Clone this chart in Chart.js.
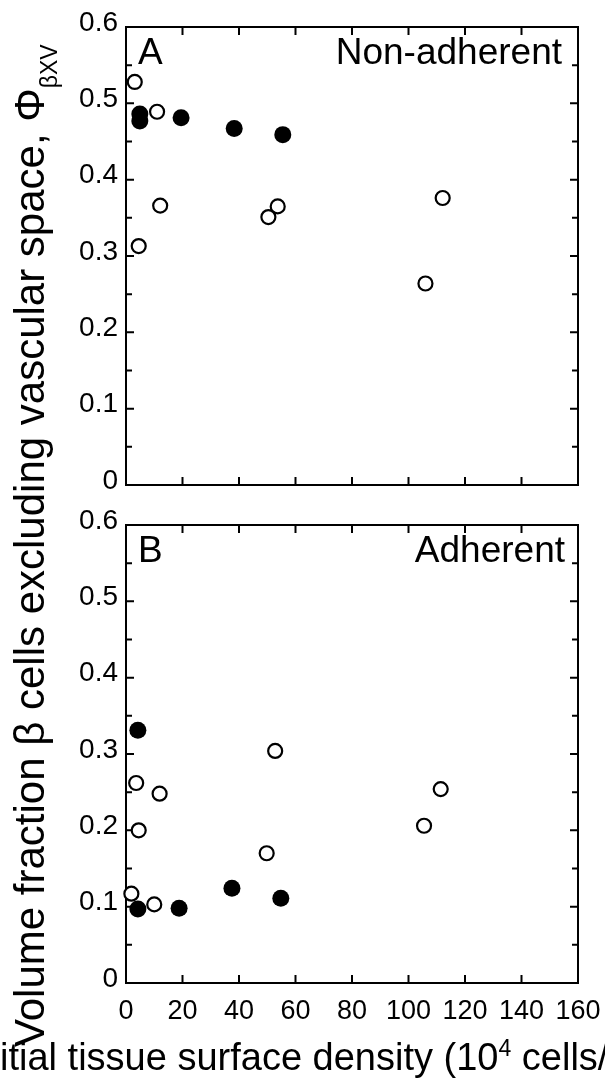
<!DOCTYPE html>
<html>
<head>
<meta charset="utf-8">
<script src="https://cdn.jsdelivr.net/npm/chart.js@4.4.1/dist/chart.umd.min.js"></script>
<style>
  html, body { margin: 0; padding: 0; background: #fff; }
  #wrap { position: relative; width: 605px; height: 1082px; overflow: hidden; background: #fff; }
  #chartA { position: absolute; left: 0; top: 0; }
  #chartB { position: absolute; left: 0; top: 500px; }
  #ytitle {
    position: absolute; left: 9px; top: 1047px;
    transform-origin: 0 0; transform: rotate(-90deg);
    font-family: "Liberation Sans", Arial, sans-serif; font-size: 42px; line-height: 42px;
    white-space: nowrap; color: #000;
  }
  #ytitle sub { font-size: 23px; vertical-align: baseline; position: relative; top: 13px; }
</style>
</head>
<body>
<div id="wrap">
  <canvas id="chartA" width="605" height="500"></canvas>
  <canvas id="chartB" width="605" height="582"></canvas>
  <div id="ytitle">Volume fraction β cells excluding vascular space, Φ<sub>βXV</sub></div>
</div>
<script>
// tick values
const xTickValues = [0, 20, 40, 60, 80, 100, 120, 140, 160];
const yTickValues = [0, 0.1, 0.2, 0.3, 0.4, 0.5, 0.6];

// panel A - non-adherent
const openAx = [3.1, 11.0, 12.1, 4.5, 53.7, 50.4, 112.1, 106.0];
const openAy = [0.528, 0.489, 0.366, 0.313, 0.365, 0.351, 0.376, 0.264];
const filledAx = [4.9, 4.9, 19.5, 38.3, 55.5];
const filledAy = [0.486, 0.477, 0.481, 0.467, 0.459];

// panel B - adherent
const openBx = [3.6, 11.9, 4.5, 1.9, 10.0, 52.8, 111.4, 105.5, 49.8];
const openBy = [0.262, 0.248, 0.200, 0.117, 0.103, 0.304, 0.254, 0.206, 0.170];
const filledBx = [4.2, 4.2, 18.8, 37.5, 54.8];
const filledBy = [0.331, 0.097, 0.098, 0.124, 0.111];

const FONT = "'Liberation Sans', Arial, sans-serif";

const toPoints = (xs, ys) => xs.map((x, i) => ({ x: x, y: ys[i] }));

// box around plot + inward ticks on all four sides
const framePlugin = {
  id: "frame",
  beforeDatasetsDraw(chart) {
    const { ctx, chartArea: a, scales } = chart;
    ctx.save();
    ctx.strokeStyle = "#000";
    ctx.lineWidth = 2;
    ctx.strokeRect(a.left, a.top, a.right - a.left, a.bottom - a.top);
    ctx.beginPath();
    xTickValues.slice(1, -1).forEach((v) => {
      const px = scales.x.getPixelForValue(v);
      ctx.moveTo(px, a.bottom);
      ctx.lineTo(px, a.bottom - 8);
      ctx.moveTo(px, a.top);
      ctx.lineTo(px, a.top + 8);
    });
    for (let i = 0; i < yTickValues.length - 1; i++) {
      const major = scales.y.getPixelForValue(yTickValues[i + 1]);
      const minor = scales.y.getPixelForValue((yTickValues[i] + yTickValues[i + 1]) / 2);
      if (i < yTickValues.length - 2) {
        ctx.moveTo(a.left, major);
        ctx.lineTo(a.left + 8, major);
        ctx.moveTo(a.right, major);
        ctx.lineTo(a.right - 8, major);
      }
      ctx.moveTo(a.left, minor);
      ctx.lineTo(a.left + 6, minor);
      ctx.moveTo(a.right, minor);
      ctx.lineTo(a.right - 6, minor);
    }
    ctx.stroke();
    ctx.restore();
  },
  afterDraw(chart) {
    const opts = chart.options.plugins.frame;
    if (!opts) return;
    const { ctx, chartArea: a } = chart;
    ctx.save();
    ctx.fillStyle = "#000";
    ctx.font = "37px " + FONT;
    ctx.textBaseline = "alphabetic";
    ctx.textAlign = "left";
    ctx.fillText(opts.letter, a.left + 12, a.top + 37);
    ctx.textAlign = "right";
    ctx.fillText(opts.name, opts.nameRight, a.top + 37);
    ctx.restore();
  },
};

const xTitlePlugin = {
  id: "xTitle",
  afterDraw(chart) {
    if (!chart.options.plugins.xTitle) return;
    const ctx = chart.ctx;
    const base = 570;
    ctx.save();
    ctx.fillStyle = "#000";
    ctx.textBaseline = "alphabetic";
    ctx.textAlign = "left";
    ctx.font = "38px " + FONT;
    let x = 0 - ctx.measureText("In").width;
    const parts = [
      ["Initial tissue surface density (10", false],
      ["4", true],
      [" cells/cm", false],
      ["2", true],
      [")", false],
    ];
    parts.forEach(([txt, sup]) => {
      ctx.font = (sup ? "23px " : "38px ") + FONT;
      ctx.fillText(txt, x, sup ? base - 14 : base);
      x += ctx.measureText(txt).width;
    });
    ctx.restore();
  },
};

function makeChart(id, openPts, filledPts, opts) {
  const ctx = document.getElementById(id).getContext("2d");
  return new Chart(ctx, {
    type: "scatter",
    data: {
      datasets: [
        {
          data: filledPts,
          pointRadius: 8.5,
          pointBackgroundColor: "#000",
          pointBorderColor: "#000",
          pointBorderWidth: 0,
          clip: false,
        },
        {
          data: openPts,
          pointRadius: 7,
          pointBackgroundColor: "#fff",
          pointBorderColor: "#000",
          pointBorderWidth: 2.2,
          clip: false,
        },
      ],
    },
    options: {
      responsive: false,
      animation: false,
      devicePixelRatio: 1,
      layout: { padding: { left: 0, top: opts.top, right: 27, bottom: 0 } },
      plugins: {
        legend: { display: false },
        tooltip: { enabled: false },
        frame: { letter: opts.letter, name: opts.name, nameRight: opts.nameRight },
        xTitle: opts.showX,
      },
      scales: {
        x: {
          type: "linear",
          min: 0,
          max: 160,
          afterBuildTicks: (s) => { s.ticks = xTickValues.map((v) => ({ value: v })); },
          afterFit: (s) => {
            s.height = opts.xHeight;
            s.paddingLeft = 0;
            s.paddingRight = 0;
          },
          grid: { display: false, drawTicks: false },
          border: { display: false },
          ticks: {
            display: opts.showX,
            color: "#000",
            padding: 12,
            maxRotation: 0,
            font: { family: FONT, size: 27 },
          },
        },
        y: {
          type: "linear",
          min: 0,
          max: 0.6,
          afterBuildTicks: (s) => { s.ticks = yTickValues.map((v) => ({ value: v })); },
          afterFit: (s) => {
            s.width = 126;
            s.paddingTop = 0;
            s.paddingBottom = 0;
          },
          grid: { display: false, drawTicks: false },
          border: { display: false },
          ticks: {
            color: "#000",
            padding: 8,
            labelOffset: -4,
            font: { family: FONT, size: 28 },
            callback: (v) => (v === 0 ? "0" : v.toFixed(1)),
          },
        },
      },
    },
    plugins: [framePlugin, xTitlePlugin],
  });
}

document.addEventListener("DOMContentLoaded", () => {
  makeChart("chartA", toPoints(openAx, openAy), toPoints(filledAx, filledAy), {
    top: 27, xHeight: 15, letter: "A", name: "Non-adherent", nameRight: 562, showX: false,
  });
  makeChart("chartB", toPoints(openBx, openBy), toPoints(filledBx, filledBy), {
    top: 25, xHeight: 99, letter: "B", name: "Adherent", nameRight: 565, showX: true,
  });
});
</script>
</body>
</html>
